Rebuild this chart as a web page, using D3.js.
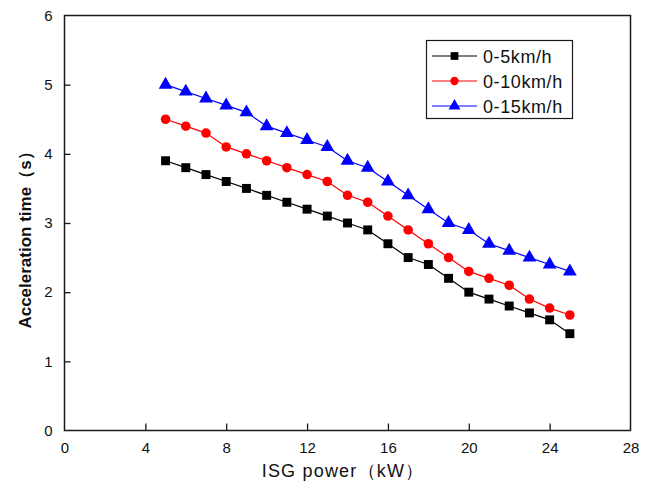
<!DOCTYPE html>
<html><head><meta charset="utf-8">
<script src="https://cdn.jsdelivr.net/npm/d3@7"></script>
<style>body{margin:0;background:#fff}svg{display:block}text{font-family:"Liberation Sans",Arial,sans-serif}</style>
</head><body><svg id="c" width="651" height="489"></svg>
<script>
const powers = [5,6,7,8,9,10,11,12,13,14,15,16,17,18,19,20,21,22,23,24,25];
const t5  = [3.9,3.8,3.7,3.6,3.5,3.4,3.3,3.2,3.1,3.0,2.9,2.7,2.5,2.4,2.2,2.0,1.9,1.8,1.7,1.6,1.4];
const t10 = [4.5,4.4,4.3,4.1,4.0,3.9,3.8,3.7,3.6,3.4,3.3,3.1,2.9,2.7,2.5,2.3,2.2,2.1,1.9,1.77,1.67];
const t15 = [5.0,4.9,4.8,4.7,4.6,4.4,4.3,4.2,4.1,3.9,3.8,3.6,3.4,3.2,3.0,2.9,2.7,2.6,2.5,2.4,2.3];
const seriesNames = ["0-5km/h","0-10km/h","0-15km/h"];
const xTicks = [0,4,8,12,16,20,24,28];
const yTicks = [0,1,2,3,4,5,6];
const xTitle = "ISG power（kW）";
const yTitle = "Acceleration time（s）";

const series = [
  {name: seriesNames[0], values: t5, color: "#000000", shape: d3.symbolSquare, size: 80},
  {name: seriesNames[1], values: t10, color: "#ff0000", shape: d3.symbolCircle, size: 72},
  {name: seriesNames[2], values: t15, color: "#0000ff", shape: d3.symbolTriangle, size: 82}
];

const svg = d3.select("#c");
const L = 64.5, R = 630.5, T = 15.5, B = 430.5;
const x = d3.scaleLinear().domain([0,28]).range([L,R]);
const y = d3.scaleLinear().domain([0,6]).range([B,T]);
const axisColor = "#1a1a1a";

svg.append("rect").attr("x",L).attr("y",T).attr("width",R-L).attr("height",B-T)
  .attr("fill","none").attr("stroke",axisColor).attr("stroke-width",1.5);

const xAxis = svg.append("g").attr("transform",`translate(0,${B})`)
  .call(d3.axisBottom(x).tickValues(xTicks).tickSize(-7).tickPadding(12).tickFormat(d3.format("d")));
const yAxis = svg.append("g").attr("transform",`translate(${L},0)`)
  .call(d3.axisLeft(y).tickValues(yTicks).tickSize(-6).tickPadding(12).tickFormat(d3.format("d")));
[xAxis,yAxis].forEach(a=>{
  a.select(".domain").remove();
  a.selectAll(".tick line").attr("stroke",axisColor).attr("stroke-width",1.3);
  a.selectAll(".tick text").attr("font-size",15).attr("fill","#111")
   .style("font-family",'"Liberation Sans",Arial,sans-serif');
});
xAxis.selectAll(".tick").filter(d=>d===0||d===28).select("line").remove();
yAxis.selectAll(".tick").filter(d=>d===0||d===6).select("line").remove();

svg.append("text").attr("x",343).attr("y",477).attr("text-anchor","middle")
  .attr("font-size",18).attr("letter-spacing",1.2).attr("fill","#111").text(xTitle);
svg.append("text").attr("transform","translate(31,236) rotate(-90)").attr("text-anchor","middle")
  .attr("font-size",17).attr("font-weight","600").attr("fill","#111").text(yTitle);

const line = d3.line().x((d,i)=>x(powers[i])).y(d=>y(d));
series.forEach(s=>{
  svg.append("path").datum(s.values).attr("d",line).attr("fill","none")
    .attr("stroke",s.color).attr("stroke-width",1.2);
  svg.append("g").selectAll("path").data(s.values).join("path")
    .attr("transform",(d,i)=>`translate(${x(powers[i])},${y(d)})`)
    .attr("d",d3.symbol().type(s.shape).size(s.size)).attr("fill",s.color);
});

const lg = svg.append("g");
lg.append("rect").attr("x",426.5).attr("y",40.5).attr("width",146).attr("height",78)
  .attr("fill","#fff").attr("stroke",axisColor).attr("stroke-width",1.2);
series.forEach((s,i)=>{
  const yy = 56 + i*25;
  lg.append("line").attr("x1",432).attr("x2",477).attr("y1",yy).attr("y2",yy)
    .attr("stroke",s.color).attr("stroke-width",1.2);
  lg.append("path").attr("transform",`translate(454.5,${yy})`)
    .attr("d",d3.symbol().type(s.shape).size(s.size*0.75)).attr("fill",s.color);
  lg.append("text").attr("x",483).attr("y",yy+6.5).attr("font-size",18).attr("fill","#111")
    .attr("letter-spacing",0.6).text(s.name);
});
</script></body></html>
